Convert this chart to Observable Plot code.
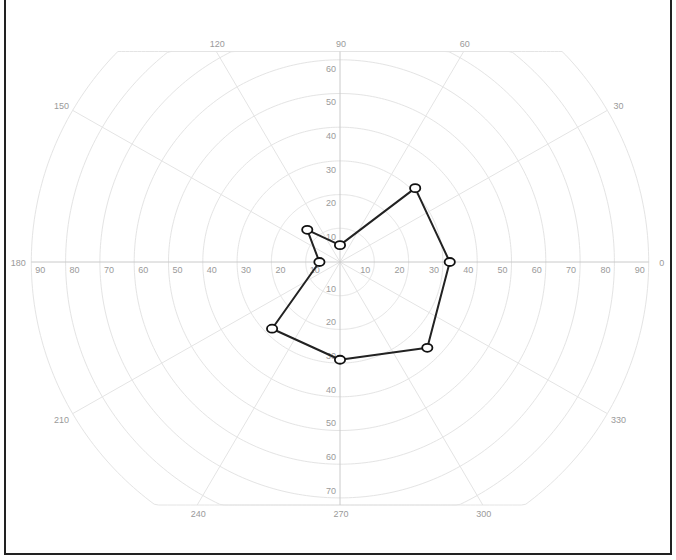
<!DOCTYPE html>
<html>
<head>
<meta charset="utf-8">
<script src="https://cdn.jsdelivr.net/npm/d3@7"></script>
<script src="https://cdn.jsdelivr.net/npm/@observablehq/plot@0.6"></script>
<style>
  html, body { margin: 0; padding: 0; background: #fff; }
  #wrap { position: relative; width: 676px; height: 560px; overflow: hidden; }
  #border { position: absolute; left: 4px; top: -3px; width: 668px; height: 558px;
            border: 2px solid #222; box-sizing: border-box; pointer-events: none; }
</style>
</head>
<body>
<div id="wrap"><div id="border"></div></div>
<script>
// ---- data ----
const angles = [0, 45, 90, 135, 180, 225, 270, 315];      // degrees
const values = [32, 31, 5, 13.5, 6, 28, 29, 36];           // radial values
const ringRadii = [10, 20, 30, 40, 50, 60, 70, 80, 90];    // radial grid / tick labels
const spokeAngles = [0, 30, 60, 90, 120, 150, 180, 210, 240, 270, 300, 330]; // angular ticks

// ---- layout (pixels) ----
const W = 676, H = 560;
const cx = 339.5, cy = 261.5;   // pole position
const kx = 3.43, ky = 3.37;     // px per unit
const topEdge = 51, bottomEdge = 504.5;
const yTop = (cy - topEdge) / ky;
const yBot = -(bottomEdge - cy) / ky;
const rMax = 90;
const rad = d => d * Math.PI / 180;
const clampY = y => Math.max(yBot, Math.min(yTop, y));

// grid rings (clipped to the plot band)
const rings = [];
for (const r of ringRadii) {
  for (let a = 0; a <= 360; a += 1) {
    rings.push({ring: r, x: r * Math.cos(rad(a)), y: clampY(r * Math.sin(rad(a)))});
  }
}
// spokes
const spokes = spokeAngles.map(a => {
  let ex = rMax * Math.cos(rad(a)), ey = rMax * Math.sin(rad(a));
  let edge = null;
  if (ey > yTop + 1e-9) { const t = yTop / ey; ex *= t; ey *= t; edge = "top"; }
  else if (ey < yBot - 1e-9) { const t = yBot / ey; ex *= t; ey *= t; edge = "bottom"; }
  if (Math.abs(ex) < 1e-9) ex = 0;
  return {a, x1: 0, y1: 0, x2: ex, y2: ey, edge, axis: a % 90 === 0};
});
// angular labels
const angLabels = spokes.map(s => {
  if (s.edge === "top") return {t: String(s.a), x: s.x2, y: s.y2, dx: 1, dy: -7};
  if (s.edge === "bottom") return {t: String(s.a), x: s.x2, y: s.y2, dx: 1, dy: 9};
  return {t: String(s.a), x: s.x2, y: s.y2, dx: 13 * Math.cos(rad(s.a)), dy: -10 * Math.sin(rad(s.a)) + 1};
});
// radial tick labels along the four axes
const labRight = ringRadii.map(r => ({t: String(r), x: r, y: 0}));
const labLeft = ringRadii.map(r => ({t: String(r), x: -r, y: 0}));
const labTop = ringRadii.filter(r => r < yTop).map(r => ({t: String(r), x: 0, y: r}));
const labBottom = ringRadii.filter(r => r < -yBot).map(r => ({t: String(r), x: 0, y: -r}));

// data points (closed polygon)
const pts = angles.map((a, i) => ({a, v: values[i], x: values[i] * Math.cos(rad(a)), y: values[i] * Math.sin(rad(a))}));
const loop = [...pts, pts[0]];

// ellipse marker symbol
const ellipse = {
  draw(ctx, size) {
    const r = Math.sqrt(size / Math.PI), rx = r * 1.28, ry = r, k = 0.5523;
    ctx.moveTo(rx, 0);
    ctx.bezierCurveTo(rx, ry * k, rx * k, ry, 0, ry);
    ctx.bezierCurveTo(-rx * k, ry, -rx, ry * k, -rx, 0);
    ctx.bezierCurveTo(-rx, -ry * k, -rx * k, -ry, 0, -ry);
    ctx.bezierCurveTo(rx * k, -ry, rx, -ry * k, rx, 0);
    ctx.closePath();
  }
};

const lab = {x: "x", y: "y", text: "t", fill: "#9a9a9a"};
const chart = Plot.plot({
  width: W, height: H,
  margin: 0,
  x: {domain: [(0 - cx) / kx, (W - cx) / kx], axis: null},
  y: {domain: [-(H - cy) / ky, cy / ky], axis: null},
  style: {fontFamily: "'Liberation Sans', Arial, sans-serif", fontSize: "9px", background: "#fff", overflow: "visible"},
  marks: [
    Plot.line(rings, {x: "x", y: "y", z: "ring", stroke: "#e4e4e4", strokeWidth: 1, curve: "linear"}),
    Plot.link(spokes.filter(d => !d.axis), {x1: "x1", y1: "y1", x2: "x2", y2: "y2", stroke: "#e4e4e4", strokeWidth: 1}),
    Plot.link(spokes.filter(d => d.axis), {x1: "x1", y1: "y1", x2: "x2", y2: "y2", stroke: "#cacaca", strokeWidth: 1}),
    Plot.text(labRight, {...lab, dx: -9, dy: 8.5}),
    Plot.text(labLeft, {...lab, dx: 9, dy: 8.5}),
    Plot.text(labTop, {...lab, dx: -9, dy: 9}),
    Plot.text(labBottom, {...lab, dx: -9, dy: -7}),
    ...angLabels.map(d => Plot.text([d], {...lab, dx: d.dx, dy: d.dy})),
    Plot.line(loop, {x: "x", y: "y", stroke: "#222", strokeWidth: 2, strokeLinejoin: "round"}),
    Plot.dot(pts, {x: "x", y: "y", r: 4, symbol: ellipse, fill: "#fff", stroke: "#111", strokeWidth: 1.8})
  ]
});
document.getElementById("wrap").prepend(chart);
</script>
</body>
</html>
